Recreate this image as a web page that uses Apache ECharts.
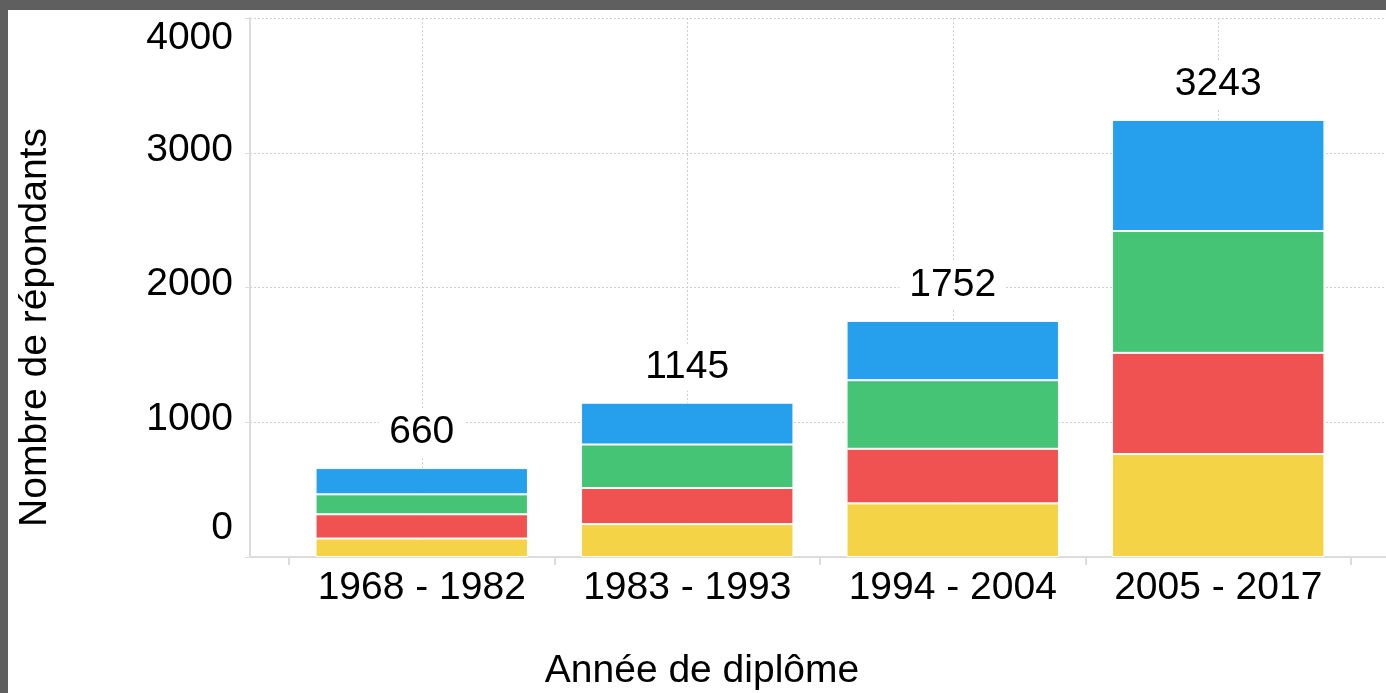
<!DOCTYPE html>
<html>
<head>
<meta charset="utf-8">
<script src="https://cdn.jsdelivr.net/npm/echarts@6/dist/echarts.min.js"></script>
<style>
  html, body { margin: 0; padding: 0; background: #5f5f5f; }
  #main { position: absolute; left: 8px; top: 10px; width: 1378px; height: 683px; background: #fff; }
</style>
</head>
<body>
<div id="main"></div>
<script>
var categories = ['1968 - 1982', '1983 - 1993', '1994 - 2004', '2005 - 2017'];
var yellowVals = [137, 244, 398, 764];
var redVals = [180, 268, 405, 751];
var greenVals = [148, 323, 509, 904];
var blueVals = [195, 310, 440, 824];
var totals = [660, 1145, 1752, 3243];
var yTicks = [0, 1000, 2000, 3000, 4000];

var myChart = echarts.init(document.getElementById('main'));
var font = 'Liberation Sans, Arial, sans-serif';

function bar(name, data, color, withLabel) {
    var s = {
        name: name,
        type: 'bar',
        stack: 'total',
        xAxisIndex: 1,
        yAxisIndex: 1,
        barWidth: '80%',
        data: data,
        itemStyle: { color: color, borderColor: '#fff', borderWidth: 1 }
    };
    if (withLabel) {
        s.label = {
            show: true,
            position: 'top',
            distance: 12,
            fontFamily: font,
            fontSize: 39,
            color: '#000',
            backgroundColor: '#fff',
            padding: [4, 10],
            formatter: function (p) { return totals[p.dataIndex]; }
        };
    }
    return s;
}

option = {
    animation: false,
    grid: [
        { left: 242, right: 0, top: 8, bottom: 136, outerBoundsMode: 'none' },
        { left: 281, right: 35, top: 8, bottom: 136, outerBoundsMode: 'none' }
    ],
    xAxis: [
        {
            gridIndex: 0,
            type: 'value',
            min: 0,
            max: 1,
            axisLine: { show: true, lineStyle: { color: '#dcdcdc', width: 2 } },
            axisTick: { show: false },
            axisLabel: { show: false },
            splitLine: { show: false }
        },
        {
            gridIndex: 1,
            type: 'category',
            data: categories,
            axisLine: { show: false },
            axisTick: { show: true, interval: 0, length: 8, lineStyle: { color: '#dcdcdc', width: 2 } },
            axisLabel: { interval: 0, fontFamily: font, fontSize: 39, color: '#000', margin: 12 },
            splitLine: { show: true, interval: 0, alignWithLabel: true, lineStyle: { color: '#d0d0d0', type: [2, 2] } },
            name: 'Année de diplôme',
            nameLocation: 'middle',
            nameGap: 95,
            nameTextStyle: { fontFamily: font, fontSize: 39, color: '#000', padding: [0, 236, 0, 0] }
        }
    ],
    yAxis: [
        {
            gridIndex: 0,
            type: 'value',
            min: yTicks[0],
            max: yTicks[yTicks.length - 1],
            interval: 1000,
            axisLine: { show: true, lineStyle: { color: '#dcdcdc', width: 2 } },
            axisTick: { show: true, length: 5, lineStyle: { color: '#dcdcdc', width: 1 } },
            axisLabel: {
                margin: 17,
                fontFamily: font,
                fontSize: 39,
                color: '#000',
                formatter: function (v) {
                    if (v === 4000) return '{t|' + v + '}';
                    if (v === 0) return '{b|' + v + '}';
                    return '{n|' + v + '}';
                },
                rich: {
                    t: { fontFamily: font, fontSize: 39, color: '#000', padding: [40, 0, 0, 0] },
                    b: { fontFamily: font, fontSize: 39, color: '#000', padding: [0, 0, 58, 0] },
                    n: { fontFamily: font, fontSize: 39, color: '#000', padding: [0, 0, 6, 0] }
                }
            },
            splitLine: { show: true, lineStyle: { color: '#d0d0d0', type: [2, 2] } },
            name: 'Nombre de répondants',
            nameLocation: 'middle',
            nameGap: 195,
            nameTextStyle: { fontFamily: font, fontSize: 39, color: '#000', padding: [0, 80, 0, 0] }
        },
        {
            gridIndex: 1,
            type: 'value',
            min: 0,
            max: 4000,
            show: false
        }
    ],
    series: [
        bar('Groupe 1', yellowVals, '#F4D446', false),
        bar('Groupe 2', redVals, '#F05252', false),
        bar('Groupe 3', greenVals, '#44C474', false),
        bar('Groupe 4', blueVals, '#26A0EC', true)
    ]
};

myChart.setOption(option);
</script>
</body>
</html>
